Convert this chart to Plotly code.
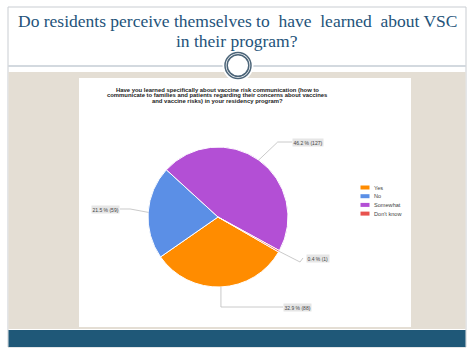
import math
import plotly.graph_objects as go

W, H = 474, 355

# ---- data ----
labels = ["Yes", "No", "Somewhat", "Don't know"]
values = [88, 59, 127, 1]
pct_labels = ["32.9 % (88)", "21.5 % (59)", "46.2 % (127)", "0.4 % (1)"]
colors = ["#FF8C00", "#5B8FE6", "#B34FD5", "#E8534E"]

slide_title = ["Do residents perceive themselves to&nbsp; have&nbsp; learned&nbsp; about VSC",
               "in their program?"]
chart_title = ["Have you learned specifically about vaccine risk communication (how to",
               "communicate to families and patients regarding their concerns about vaccines",
               "and vaccine risks) in your residency program?"]

# ---- layout constants (pixels) ----
CX, CY, R = 218, 217, 70
START = 120  # degrees clockwise from 12 o'clock


def px(x):
    return x / W


def py(y):
    return 1 - y / H


fig = go.Figure()
fig.add_trace(go.Pie(
    labels=labels, values=values, sort=False, direction="clockwise",
    rotation=START, textinfo="none", showlegend=False,
    marker=dict(colors=colors, line=dict(color="white", width=1)),
    domain=dict(x=[px(CX - R), px(CX + R)], y=[py(CY + R), py(CY - R)]),
))

shapes = []
annotations = []

# slide decorations
shapes.append(dict(type="rect", xref="paper", yref="paper", x0=px(8), x1=px(466), y0=py(347), y1=py(7),
                   line=dict(color="#C9CDD2", width=1), fillcolor="white", layer="below"))
shapes.append(dict(type="rect", xref="paper", yref="paper", x0=px(8.5), x1=px(465.5), y0=py(329), y1=py(72),
                   line=dict(width=0), fillcolor="#E4DED4", layer="below"))
shapes.append(dict(type="rect", xref="paper", yref="paper", x0=px(8.5), x1=px(465.5), y0=py(347), y1=py(330),
                   line=dict(width=0), fillcolor="#1F5878", layer="below"))
shapes.append(dict(type="line", xref="paper", yref="paper", x0=px(8.5), x1=px(465.5), y0=py(66), y1=py(66),
                   line=dict(color="#A7B4BF", width=1.2), layer="below"))
shapes.append(dict(type="rect", xref="paper", yref="paper", x0=px(79), x1=px(411), y0=py(327), y1=py(78),
                   line=dict(width=0), fillcolor="white", layer="below"))
# circle ornament
OX, OY = 238, 65.5
for rr, lc, lw, fc in [(15.5, "rgba(0,0,0,0)", 0, "white"), (13, "#4C6579", 1.5, "white"),
                       (10.8, "#4C6579", 1.5, "white")]:
    shapes.append(dict(type="circle", xref="paper", yref="paper",
                       x0=px(OX - rr), x1=px(OX + rr), y0=py(OY + rr), y1=py(OY - rr),
                       line=dict(color=lc, width=lw), fillcolor=fc, layer="below"))

# slide title
for i, t in enumerate(slide_title):
    annotations.append(dict(text=t, xref="paper", yref="paper", x=px(237), y=py(21 + 20 * i),
                            showarrow=False, xanchor="center", yanchor="middle",
                            font=dict(family="Liberation Serif, Times New Roman, DejaVu Serif, serif",
                                      size=17.5, color="#24537A")))

# chart title
for i, t in enumerate(chart_title):
    annotations.append(dict(text="<b>" + t + "</b>", xref="paper", yref="paper", x=px(217), y=py(89.5 + 5.9 * i),
                            showarrow=False, xanchor="center", yanchor="middle",
                            font=dict(family="Liberation Sans, Arial, sans-serif", size=5.9, color="#222222")))

# leader lines + value labels
total = sum(values)
ang = START
mids = []
for v in values:
    span = 360 * v / total
    mids.append(ang + span / 2)
    ang += span


def edge(a, r):
    t = math.radians(a)
    return CX + r * math.sin(t), CY - r * math.cos(t)


# per-slice elbow style: (kind, label y, label x)
label_pos = {
    0: ("down", 307, 283),
    1: ("flat", 209, 120),
    2: ("diag", 142, 292),
    3: ("diag2", 258, 306),
}
for i, a in enumerate(mids):
    x0, y0 = edge(a, R)
    kind, ly, lx = label_pos[i]
    if kind == "down":
        pts = [(x0, y0), (x0, ly), (lx, ly)]
        anchor = "left"
    elif kind == "flat":
        pts = [(x0, y0), (x0 - 18, ly), (lx, ly)]
        anchor = "right"
    elif kind == "diag":
        pts = [(x0, y0), (x0 + 19, ly), (lx, ly)]
        anchor = "left"
    else:
        pts = [(x0, y0), (x0 + 21, ly + 4), (lx - 3, ly)]
        anchor = "left"
    path = "M " + " L ".join(f"{px(x):.5f},{py(y):.5f}" for x, y in pts)
    shapes.append(dict(type="path", xref="paper", yref="paper", path=path,
                       line=dict(color="#BDBDBD", width=0.8)))
    annotations.append(dict(text=pct_labels[i], xref="paper", yref="paper", x=px(lx), y=py(ly),
                            showarrow=False, xanchor=anchor, yanchor="middle",
                            bgcolor="#E6E6E6", borderpad=0.5,
                            font=dict(family="Liberation Sans, Arial, sans-serif", size=5, color="#444444")))

# custom legend
for i, lab in enumerate(labels):
    yy = 187.5 + 8.7 * i
    shapes.append(dict(type="rect", xref="paper", yref="paper", x0=px(360.5), x1=px(369.5),
                       y0=py(yy + 2), y1=py(yy - 2), line=dict(width=0), fillcolor=colors[i]))
    annotations.append(dict(text=lab, xref="paper", yref="paper", x=px(372), y=py(yy),
                            showarrow=False, xanchor="left", yanchor="middle",
                            font=dict(family="Liberation Sans, Arial, sans-serif", size=5.6, color="#444444")))

fig.update_layout(
    width=W, height=H, margin=dict(l=0, r=0, t=0, b=0),
    paper_bgcolor="white", plot_bgcolor="white",
    shapes=shapes, annotations=annotations, showlegend=False,
)
fig.write_html("out.html")
